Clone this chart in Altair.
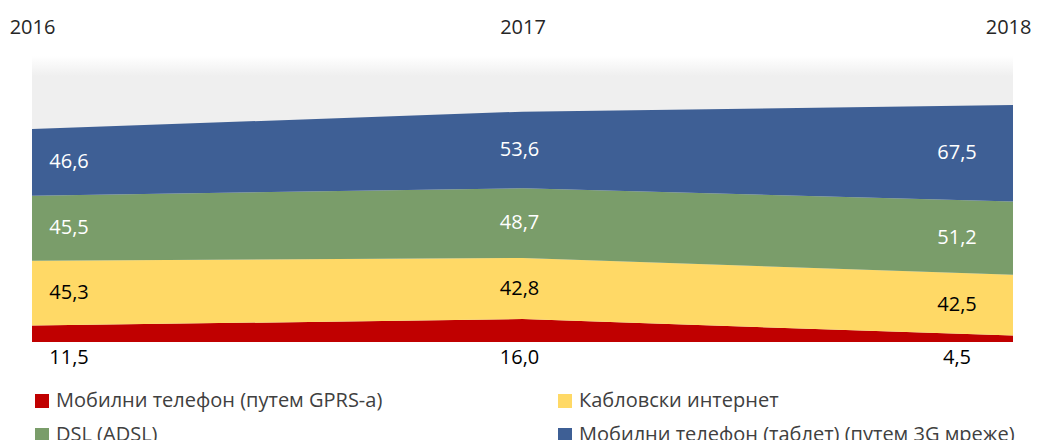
import altair as alt
import pandas as pd

years = ["2016", "2017", "2018"]
series = [
    "Мобилни телефон (путем GPRS-а)",
    "Кабловски интернет",
    "DSL (ADSL)",
    "Мобилни телефон (таблет) (путем 3G мреже)",
]
gprs = [11.5, 16.0, 4.5]
cable = [45.3, 42.8, 42.5]
dsl = [45.5, 48.7, 51.2]
mob3g = [46.6, 53.6, 67.5]
colors = ["#C00000", "#FFD966", "#7A9D6A", "#3E5F95"]
y_max = 200
label_dx = {"2016": 37, "2017": -3, "2018": -56}
# legend is filled column by column: order so that rows read red, yellow / green, blue
legend_order = [0, 2, 1, 3]

rows = []
for si, (name, vals) in enumerate(zip(series, [gprs, cable, dsl, mob3g])):
    for yr, v in zip(years, vals):
        rows.append({"year": yr, "series": name, "value": v, "ord": si,
                     "label": f"{v:.1f}".replace(".", ",")})
df = pd.DataFrame(rows)
bg_df = pd.DataFrame({"year": years, "top": [y_max] * len(years)})

FONT = "Open Sans"
xscale = alt.Scale(type="point", padding=0, domain=years)
yscale = alt.Scale(domain=[0, y_max], nice=False, zero=True)
last_year_test = f"datum.value == '{years[-1]}'"

bg = alt.Chart(bg_df).mark_area(
    color=alt.Gradient(gradient="linear", x1=0, x2=0, y1=0, y2=1,
                       stops=[alt.GradientStop(offset=0, color="#ffffff"),
                              alt.GradientStop(offset=0.07, color="#efefef"),
                              alt.GradientStop(offset=1, color="#efefef")])
).encode(
    x=alt.X("year:O", scale=xscale,
            axis=alt.Axis(orient="top", title=None, domain=False, ticks=False,
                          labelAngle=0, labelFontSize=20, labelColor="#262626",
                          labelFont=FONT, labelPadding=19, grid=False,
                          labelAlign={"condition": {"test": last_year_test, "value": "right"},
                                      "value": "center"},
                          labelOffset={"condition": {"test": last_year_test, "value": 18},
                                       "value": 0})),
    y=alt.Y("top:Q", scale=yscale, axis=None),
    y2=alt.value(286),
)

stacked = alt.Chart(df).transform_stack(
    stack="value", groupby=["year"], sort=[alt.SortField("ord")], as_=["y0", "y1"]
).transform_calculate(mid="(datum.y0 + datum.y1) / 2")

area = stacked.mark_area(opacity=1, interpolate="linear").encode(
    x=alt.X("year:O", scale=xscale),
    y=alt.Y("y1:Q", scale=yscale, axis=None),
    y2="y0:Q",
    color=alt.Color("series:N",
                    scale=alt.Scale(domain=[series[i] for i in legend_order],
                                    range=[colors[i] for i in legend_order]),
                    legend=alt.Legend(title=None, orient="none", legendX=0, legendY=335,
                                      columns=2, symbolType="square", symbolSize=196,
                                      symbolStrokeWidth=0, labelFontSize=20,
                                      labelFont=FONT, labelColor="#404040",
                                      columnPadding=172, rowPadding=14,
                                      labelLimit=600, labelOffset=4)),
    detail="ord:Q",
)

texts = []
for yr in years:
    mid = stacked.transform_filter(f"datum.year == '{yr}' && datum.ord > 0").mark_text(
        font=FONT, fontSize=20, dx=label_dx[yr], align="center", baseline="middle"
    ).encode(
        x=alt.X("year:O", scale=xscale),
        y=alt.Y("mid:Q", scale=yscale),
        text="label:N",
        color=alt.condition("datum.ord >= 2", alt.value("#ffffff"), alt.value("#000000")),
    )
    bottom = stacked.transform_filter(f"datum.year == '{yr}' && datum.ord == 0").mark_text(
        font=FONT, fontSize=20, dx=label_dx[yr], dy=16, align="center", baseline="middle",
        color="#000000"
    ).encode(
        x=alt.X("year:O", scale=xscale),
        y=alt.Y("y0:Q", scale=yscale),
        text="label:N",
    )
    texts += [mid, bottom]

chart = alt.layer(bg, area, *texts).properties(
    width=981, height=286,
    padding={"left": 24, "top": 48, "right": 18, "bottom": 98},
    autosize=alt.AutoSizeParams(type="none"),
).configure_view(stroke=None)

chart.save("out.html", embed_options={"renderer": "svg", "actions": False})
